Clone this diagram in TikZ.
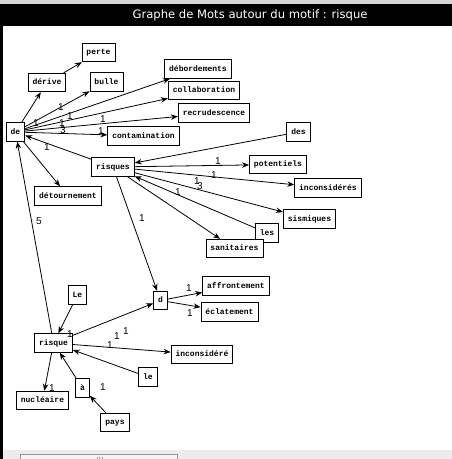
\documentclass[tikz,border=0pt]{standalone}
\usepackage{fontspec}
\setmainfont{Liberation Sans}
\newfontfamily\wordfont{Liberation Mono}
\newfontfamily\titlefont{DejaVu Sans}
\usetikzlibrary{arrows.meta}
\definecolor{ink}{HTML}{000000}
\definecolor{paper}{HTML}{FFFFFF}
\definecolor{framegray}{HTML}{D6D6D6}
\definecolor{barbg}{HTML}{ECECEC}
\definecolor{thumbedge}{HTML}{9A9A9A}
\definecolor{thumbfill}{HTML}{F4F4F4}
\tikzset{
  wordbox/.style={draw=ink,fill=paper,line width=0.9pt,
                  inner xsep=4.5pt,inner ysep=0pt,minimum height=18.5pt,
                  text height=6pt,text depth=1.5pt,
                  font=\wordfont\bfseries\fontsize{8}{9}\selectfont},
  wordarr/.style={-{Stealth[length=7pt,width=5.5pt]},line width=0.8pt,color=ink},
  countlbl/.style={inner sep=0pt,text height=7.2pt,text depth=0pt,
                   font=\fontsize{10}{11}\selectfont}
}

\begin{document}
\begin{tikzpicture}[x=1pt,y=-1pt]
  \useasboundingbox (0,0) rectangle (452,459);
  % window frame
  \fill[framegray] (0,0) rectangle (452,4);
  \fill[ink] (0,4) rectangle (452,26);
  \node[text=white,font=\titlefont\fontsize{11.6}{13}\selectfont] (title) at (250,15)
    {Graphe de Mots autour du motif : risque};
  \fill[ink] (0,26) rectangle (2.5,459);
  \fill[barbg] (2.5,450) rectangle (452,459);
  \draw[thumbedge,fill=thumbfill] (20.5,454.5) rectangle (177.5,462);
  \foreach \gx in {97,99.5,102} \draw[thumbedge] (\gx,456.5) -- (\gx,459);

  % words
  \node[wordbox] (de) at (15.5,132) {de};
  \node[wordbox] (derive) at (47,82.5) {dérive};
  \node[wordbox] (perte) at (98.5,52.5) {perte};
  \node[wordbox] (bulle) at (106.5,82) {bulle};
  \node[wordbox] (debord) at (198,69) {débordements};
  \node[wordbox] (collab) at (204,90.5) {collaboration};
  \node[wordbox] (recrud) at (214,113) {recrudescence};
  \node[wordbox] (contam) at (143.5,136) {contamination};
  \node[wordbox] (detour) at (68,196) {détournement};
  \node[wordbox] (risques) at (113,167) {risques};
  \node[wordbox] (des) at (298.5,132) {des};
  \node[wordbox] (potent) at (278,164.5) {potentiels};
  \node[wordbox] (inconsS) at (328,188) {inconsidérés};
  \node[wordbox] (sism) at (309.5,219) {sismiques};
  \node[wordbox] (les) at (267,233) {les};
  \node[wordbox] (sanit) at (234.5,248.5) {sanitaires};
  \node[wordbox] (d) at (160.5,300.5) {d};
  \node[wordbox] (affront) at (236,286) {affrontement};
  \node[wordbox] (eclat) at (229.5,312) {éclatement};
  \node[wordbox] (Le) at (77.5,295) {Le};
  \node[wordbox] (risque) at (53.5,343) {risque};
  \node[wordbox] (incons) at (202,354.5) {inconsidéré};
  \node[wordbox] (le) at (148,377) {le};
  \node[wordbox] (a) at (82.5,388) {à};
  \node[wordbox] (nucl) at (42.5,400.5) {nucléaire};
  \node[wordbox] (pays) at (115,422.5) {pays};

  % links
  \draw[wordarr] (de) -- (derive);
  \draw[wordarr] (derive) -- (perte);
  \draw[wordarr] (de) -- (bulle);
  \draw[wordarr] (de) -- (debord);
  \draw[wordarr] (de) -- (collab);
  \draw[wordarr] (de) -- (recrud);
  \draw[wordarr] (de) -- (contam);
  \draw[wordarr] (de) -- (detour);
  \draw[wordarr] (risques) -- (de);
  \draw[wordarr] (risque) -- (de);
  \draw[wordarr] (des) -- (risques);
  \draw[wordarr] (risques) -- (potent);
  \draw[wordarr] (risques) -- (inconsS);
  \draw[wordarr] (risques) -- (sism);
  \draw[wordarr] (risques) -- (sanit);
  \draw[wordarr] (les) -- (risques);
  \draw[wordarr] (risques) -- (d);
  \draw[wordarr] (d) -- (affront);
  \draw[wordarr] (d) -- (eclat);
  \draw[wordarr] (Le) -- (risque);
  \draw[wordarr] (risque) -- (d);
  \draw[wordarr] (risque) -- (incons);
  \draw[wordarr] (le) -- (risque);
  \draw[wordarr] (a) -- (risque);
  \draw[wordarr] (risque) -- (nucl);
  \draw[wordarr] (pays) -- (a);

  % counts
  \foreach \px/\py/\cnt [count=\i] in {61/107/1, 70/116/1, 103/119/1, 36/123/1,
      62/123/1, 63/130/3, 101/131/1, 47/147/1, 39/221/5, 142/218/1,
      218/161/1, 214/175/1, 197/181/1, 200/186/3, 178/192/1, 189/288/1,
      190/313/1, 70/334/1, 117/336/1, 126/331/1, 110/345/1, 52/388/1, 103/387/1}
    \node[countlbl] (cnt\i) at (\px,\py) {\cnt};
\end{tikzpicture}
\end{document}
